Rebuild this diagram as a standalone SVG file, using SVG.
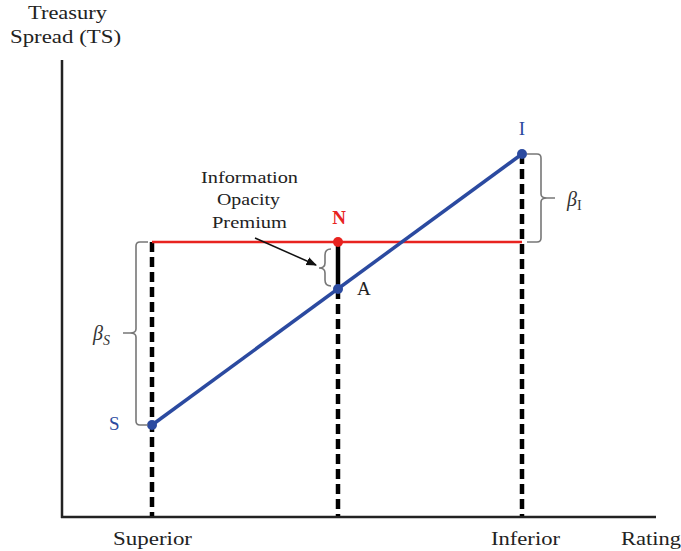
<svg xmlns="http://www.w3.org/2000/svg" width="681" height="551" viewBox="0 0 681 551">
<style>
text{font-family:"Liberation Serif","Times New Roman","DejaVu Serif",serif;fill:#222}
.lbl{font-size:19px}
.prem{font-size:17px}
.dash{stroke:#000;stroke-width:4.5;stroke-dasharray:10 5;fill:none}
.brace{stroke:#777;stroke-width:1.6;fill:none}
.blue{fill:#2b4aa0}
.beta{font-size:20px;font-style:italic;fill:#333}
</style>
<defs>
<marker id="ah" viewBox="0 0 10 10" refX="9" refY="5" markerWidth="7" markerHeight="7" orient="auto"><path d="M0,1 L10,5 L0,9 z" fill="#111"/></marker>
</defs>
<rect width="681" height="551" fill="#fff"/>
<g id="axes">
<line x1="62" y1="60" x2="62" y2="518" stroke="#222" stroke-width="2.5"/>
<line x1="61" y1="517" x2="656" y2="517" stroke="#222" stroke-width="2.5"/>
<text class="lbl" x="28" y="19" textLength="79" lengthAdjust="spacingAndGlyphs">Treasury</text>
<text class="lbl" x="10" y="43" textLength="111" lengthAdjust="spacingAndGlyphs">Spread (TS)</text>
<text class="lbl" x="113" y="545" textLength="79" lengthAdjust="spacingAndGlyphs">Superior</text>
<text class="lbl" x="491" y="545" textLength="69" lengthAdjust="spacingAndGlyphs">Inferior</text>
<text class="lbl" x="621" y="545" textLength="60" lengthAdjust="spacingAndGlyphs">Rating</text>
</g>
<g id="connectors">
<line class="dash" x1="152" y1="242" x2="152" y2="516"/>
<line class="dash" x1="338" y1="289" x2="338" y2="516"/>
<line x1="338" y1="242" x2="338" y2="289" stroke="#000" stroke-width="4.5"/>
<line class="dash" x1="522" y1="154" x2="522" y2="516"/>
<line x1="152" y1="242" x2="522" y2="242" stroke="#e8231f" stroke-width="2.5"/>
<line x1="152" y1="425" x2="522" y2="154" stroke="#2b4aa0" stroke-width="3.5"/>
<line x1="255" y1="238" x2="316" y2="265" stroke="#111" stroke-width="1.5" marker-end="url(#ah)"/>
</g>
<g id="S">
<circle cx="152" cy="425" r="5" fill="#2b4aa0"/>
<text class="blue" x="109" y="430" font-size="19">S</text>
</g>
<g id="I">
<circle cx="522" cy="154" r="5" fill="#2b4aa0"/>
<text class="blue" x="522" y="135" font-size="19" text-anchor="middle">I</text>
</g>
<g id="N">
<circle cx="338" cy="242" r="5" fill="#e8231f"/>
<text x="339" y="224" font-size="19" font-weight="bold" text-anchor="middle" style="fill:#e8231f">N</text>
</g>
<g id="A">
<circle cx="338" cy="289" r="5" fill="#2b4aa0"/>
<text x="357" y="295" font-size="19">A</text>
</g>
<g id="premium">
<text class="prem" x="201" y="183" textLength="97" lengthAdjust="spacingAndGlyphs">Information</text>
<text class="prem" x="217" y="205" textLength="63" lengthAdjust="spacingAndGlyphs">Opacity</text>
<text class="prem" x="212" y="228" textLength="75" lengthAdjust="spacingAndGlyphs">Premium</text>
<path class="brace" d="M331,249 Q325,249 325,255 L325,263 Q325,268 319,268 Q325,268 325,273 L325,280 Q325,286 331,286"/>
</g>
<g id="betaS">
<path class="brace" d="M148,242 L140,242 Q136,242 136,246 L136,329 Q136,333 130,333 L123,333 M130,333 Q136,333 136,337 L136,421 Q136,425 140,425 L148,425"/>
<text class="beta" x="93" y="340">β<tspan font-size="14" dy="5">S</tspan></text>
</g>
<g id="betaI">
<path class="brace" d="M527,154 L537,154 Q541,154 541,158 L541,194 Q541,198 547,198 L555,198 M547,198 Q541,198 541,202 L541,238 Q541,242 537,242 L527,242"/>
<text class="beta" x="567" y="206">β<tspan font-size="14" dy="4" font-style="normal">I</tspan></text>
</g>
</svg>
